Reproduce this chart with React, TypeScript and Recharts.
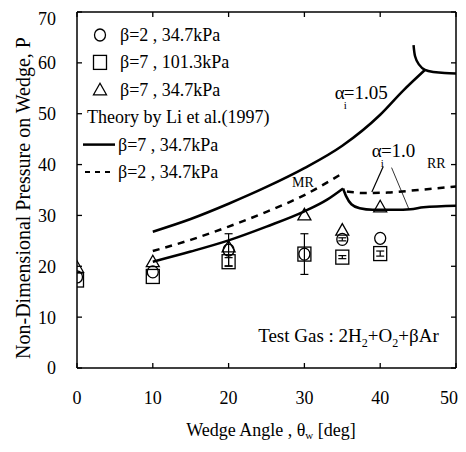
import React from 'react';
import {
  ComposedChart,
  Line,
  Scatter,
  XAxis,
  YAxis,
  ErrorBar,
  ReferenceLine,
  ReferenceDot,
  Legend,
  Label,
} from 'recharts';

const FONT = '"Liberation Serif", "Times New Roman", serif';

// ---- axes ----
const xTicks = [0, 10, 20, 30, 40, 50];
const yTicks = [0, 10, 20, 30, 40, 50, 60, 70];

// ---- experimental data ----
const angles = [0, 10, 20, 30, 35, 40];
const circleP = [17.9, 18.9, 23.2, 22.4, 25.3, 25.5]; // beta=2, 34.7kPa
const circleErr = [null, null, 3.2, 4.0, 0.3, null];
const squareP = [17.3, 18.0, 20.9, 22.4, 21.8, 22.5]; // beta=7, 101.3kPa
const squareErr = [null, null, 0.8, null, 0.3, 0.5];
const triangleP = [19.8, 20.9, 23.8, 30.1, 27.1, 31.7]; // beta=7, 34.7kPa

// ---- theory (Li et al. 1997) ----
const upperX = [10, 15, 20, 25, 30, 35, 40, 43, 45.9];
const upperP = [26.8, 29.3, 32.3, 35.6, 39.3, 43.7, 49.8, 54.5, 58.6];
const upperHookX = [44.4, 44.6, 45.1, 45.9, 47, 48.5, 50];
const upperHookP = [63.5, 61.3, 59.7, 58.6, 58.2, 58.0, 57.9];
const lowerX = [10, 15, 20, 25, 30, 33, 35.1];
const lowerP = [20.9, 22.9, 25.1, 27.8, 30.8, 33.1, 35.3];
const lowerRRX = [35.1, 35.5, 36.2, 37.3, 39, 42, 44, 45.7, 50];
const lowerRRP = [35.3, 33.8, 32.2, 31.4, 31.1, 31.1, 31.2, 31.6, 31.9];
const dashX = [10, 15, 20, 25, 30, 34.6];
const dashP = [23.0, 25.2, 27.8, 30.7, 34.0, 37.9];
const dashRRX = [35.6, 38, 41, 45, 50];
const dashRRP = [34.7, 34.4, 34.5, 35.0, 35.7];

// ---- legend ----
const legendRows = [
  { kind: 'circle', label: 'β=2 , 34.7kPa' },
  { kind: 'square', label: 'β=7 , 101.3kPa' },
  { kind: 'triangle', label: 'β=7 , 34.7kPa' },
  { kind: 'title', label: 'Theory by Li et al.(1997)' },
  { kind: 'solid', label: 'β=7 , 34.7kPa' },
  { kind: 'dashed', label: 'β=2 , 34.7kPa' },
];

const pts = (xs: number[], ys: number[], errs?: (number | null)[]) =>
  xs.map((x, i) => ({ x, p: ys[i], e: errs ? errs[i] : null }));

const circleData = pts(angles, circleP, circleErr);
const squareData = pts(angles, squareP, squareErr);
const triangleData = pts(angles, triangleP);

function Marker({ kind, cx, cy }: { kind: string; cx: number; cy: number }) {
  const common = { fill: 'none', stroke: '#000', strokeWidth: 1.3 };
  if (kind === 'circle') return <ellipse cx={cx} cy={cy} rx={5.5} ry={6} {...common} />;
  if (kind === 'square') return <rect x={cx - 6.5} y={cy - 7} width={13} height={14} {...common} />;
  if (kind === 'triangle')
    return <polygon points={`${cx},${cy - 6.5} ${cx - 6.5},${cy + 5} ${cx + 6.5},${cy + 5}`} {...common} />;
  return null;
}

const shapeOf = (kind: string) => (props: any) => <Marker kind={kind} cx={props.cx} cy={props.cy} />;

function LegendBox() {
  return (
    <svg width={300} height={180} style={{ display: 'block' }}>
      {legendRows.map((r, i) => {
        const y = 27 + i * 27.4;
        let icon: React.ReactNode = null;
        let tx = 112;
        if (r.kind === 'circle' || r.kind === 'square' || r.kind === 'triangle') {
          icon = <Marker kind={r.kind} cx={92} cy={y} />;
        } else if (r.kind === 'solid') {
          icon = <line x1={75} x2={107} y1={y} y2={y} stroke="#000" strokeWidth={2.5} />;
          tx = 110;
        } else if (r.kind === 'dashed') {
          icon = <line x1={77} x2={106} y1={y} y2={y} stroke="#000" strokeWidth={2} strokeDasharray="5 5" />;
          tx = 110;
        } else {
          tx = 79;
        }
        return (
          <g key={i}>
            {icon}
            <text x={tx} y={y} dominantBaseline="central" fontFamily={FONT} fontSize={18} fill="#000">
              {r.label}
            </text>
          </g>
        );
      })}
    </svg>
  );
}

const alphaLabel = (val: string) => (p: any) => (
  <text x={p.cx} y={p.cy} dominantBaseline="central" fontFamily={FONT} fontSize={19} fill="#000">
    <tspan>α</tspan>
    <tspan dy={13} dx={-1} fontSize={11}>i</tspan>
    <tspan dy={-13} dx={-3}>{val}</tspan>
  </text>
);

const smallLabel = (val: string) => (p: any) => (
  <text x={p.cx} y={p.cy} textAnchor="middle" dominantBaseline="central" fontFamily={FONT} fontSize={14} fill="#000">
    {val}
  </text>
);

const testGasLabel = (p: any) => (
  <text x={p.cx} y={p.cy} dominantBaseline="central" fontFamily={FONT} fontSize={19} fill="#000">
    <tspan>Test Gas : 2H</tspan>
    <tspan dy={8} fontSize={12}>2</tspan>
    <tspan dy={-8}>+O</tspan>
    <tspan dy={8} fontSize={12}>2</tspan>
    <tspan dy={-8}>+βAr</tspan>
  </text>
);

const xTitle = (props: any) => {
  const vb = props.viewBox;
  const cx = vb.x + vb.width / 2 + 4.5;
  const cy = vb.y + 62;
  return (
    <text x={cx} y={cy} textAnchor="middle" dominantBaseline="central" fontFamily={FONT} fontSize={18} fill="#000">
      <tspan>Wedge Angle , θ</tspan>
      <tspan dy={5} fontSize={11}>w</tspan>
      <tspan dy={-5}> [deg]</tspan>
    </text>
  );
};

const yTitle = (props: any) => {
  const vb = props.viewBox;
  const cx = vb.x + 6;
  const cy = vb.y + vb.height / 2 + 8;
  return (
    <text
      x={cx}
      y={cy}
      transform={`rotate(-90 ${cx} ${cy})`}
      textAnchor="middle"
      dominantBaseline="central"
      fontFamily={FONT}
      fontSize={20}
      fill="#000"
    >
      Non-Dimensional Pressure on Wedge, P
    </text>
  );
};

const tickStyle = { fill: '#000', fontSize: 18, fontFamily: FONT };
const axisLine = { stroke: '#000', strokeWidth: 1.5 };
const tickLine = { stroke: '#000', strokeWidth: 1.3 };

export default function App() {
  return (
    <ComposedChart width={450} height={436} margin={{ top: 3, right: 1, bottom: 0, left: 9 }}>
      <XAxis
        dataKey="x"
        type="number"
        domain={[0, 50]}
        ticks={xTicks}
        allowDataOverflow
        height={76}
        tickSize={-5}
        tickMargin={28}
        tick={tickStyle}
        axisLine={axisLine}
        tickLine={tickLine}
      >
        <Label content={xTitle} />
      </XAxis>
      <XAxis
        xAxisId="top"
        orientation="top"
        dataKey="x"
        type="number"
        domain={[0, 50]}
        ticks={xTicks}
        allowDataOverflow
        height={1}
        tickSize={-5}
        tickFormatter={() => ''}
        axisLine={axisLine}
        tickLine={tickLine}
      />
      <YAxis
        dataKey="p"
        type="number"
        domain={[0, 70]}
        ticks={yTicks}
        allowDataOverflow
        width={60}
        tickSize={-5}
        tickMargin={26}
        tick={tickStyle}
        axisLine={axisLine}
        tickLine={tickLine}
      >
        <Label content={yTitle} />
      </YAxis>
      <YAxis
        yAxisId="right"
        orientation="right"
        dataKey="p"
        type="number"
        domain={[0, 70]}
        ticks={yTicks}
        allowDataOverflow
        width={1}
        tickSize={-5}
        tickFormatter={() => ''}
        axisLine={axisLine}
        tickLine={tickLine}
      />

      <Line data={pts(upperX, upperP)} dataKey="p" type="monotone" stroke="#000" strokeWidth={2.5} dot={false} isAnimationActive={false} />
      <Line data={pts(upperHookX, upperHookP)} dataKey="p" type="natural" stroke="#000" strokeWidth={2.5} dot={false} isAnimationActive={false} />
      <Line data={pts(lowerX, lowerP)} dataKey="p" type="monotone" stroke="#000" strokeWidth={2.5} dot={false} isAnimationActive={false} />
      <Line data={pts(lowerRRX, lowerRRP)} dataKey="p" type="monotone" stroke="#000" strokeWidth={2.5} dot={false} isAnimationActive={false} />
      <Line data={pts(dashX, dashP)} dataKey="p" type="monotone" stroke="#000" strokeWidth={2.5} strokeDasharray="7 6" dot={false} isAnimationActive={false} />
      <Line data={pts(dashRRX, dashRRP)} dataKey="p" type="monotone" stroke="#000" strokeWidth={2.5} strokeDasharray="7 6" dot={false} isAnimationActive={false} />

      <Scatter data={squareData} dataKey="p" shape={shapeOf('square')} isAnimationActive={false}>
        <ErrorBar dataKey="e" direction="y" width={4} stroke="#000" strokeWidth={1.2} />
      </Scatter>
      <Scatter data={circleData} dataKey="p" shape={shapeOf('circle')} isAnimationActive={false}>
        <ErrorBar dataKey="e" direction="y" width={4} stroke="#000" strokeWidth={1.2} />
      </Scatter>
      <Scatter data={triangleData} dataKey="p" shape={shapeOf('triangle')} isAnimationActive={false} />

      <ReferenceLine segment={[{ x: 40.4, y: 39.6 }, { x: 38.9, y: 34.6 }]} stroke="#000" strokeWidth={1.2} />
      <ReferenceLine segment={[{ x: 41.5, y: 39.4 }, { x: 43.8, y: 31.2 }]} stroke="#000" strokeWidth={0.8} />

      <ReferenceDot x={34.0} y={54.3} r={0} shape={alphaLabel('=1.05')} />
      <ReferenceDot x={38.9} y={42.9} r={0} shape={alphaLabel('=1.0')} />
      <ReferenceDot x={29.8} y={36.4} r={0} shape={smallLabel('MR')} />
      <ReferenceDot x={47.4} y={40.3} r={0} shape={smallLabel('RR')} />
      <ReferenceDot x={23.9} y={6.5} r={0} shape={testGasLabel} />

      <Legend
        content={<LegendBox />}
        layout="vertical"
        align="center"
        verticalAlign="middle"
        wrapperStyle={{ left: 0, top: 0, width: 300, height: 180 }}
      />
    </ComposedChart>
  );
}
